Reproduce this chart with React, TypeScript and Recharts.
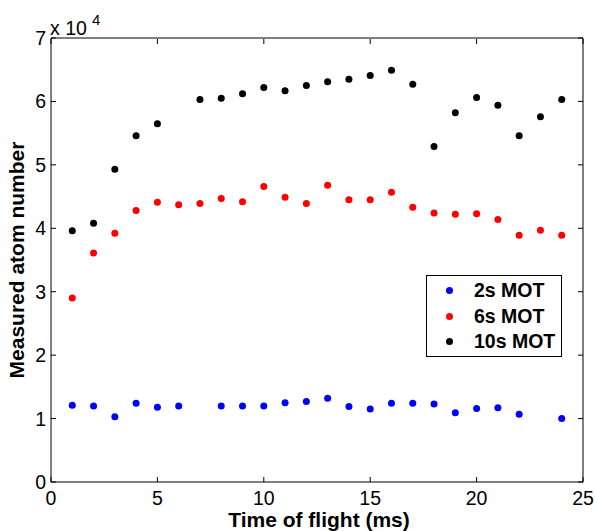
import React from "react";
import { ScatterChart, Scatter, XAxis, YAxis } from "recharts";

const t2s = [1, 2, 3, 4, 5, 6, 8, 9, 10, 11, 12, 13, 14, 15, 16, 17, 18, 19, 20, 21, 22, 24];
const n2s = [12100, 12000, 10300, 12400, 11800, 12000, 12000, 12000, 12000, 12500, 12700, 13200, 11900, 11500, 12400, 12400, 12300, 10900, 11600, 11700, 10700, 10000];

const t6s = [1, 2, 3, 4, 5, 6, 7, 8, 9, 10, 11, 12, 13, 14, 15, 16, 17, 18, 19, 20, 21, 22, 23, 24];
const n6s = [29000, 36100, 39200, 42800, 44100, 43700, 43900, 44700, 44200, 46600, 44900, 43900, 46800, 44500, 44500, 45700, 43300, 42400, 42200, 42300, 41400, 38900, 39700, 38900];

const t10s = [1, 2, 3, 4, 5, 7, 8, 9, 10, 11, 12, 13, 14, 15, 16, 17, 18, 19, 20, 21, 22, 23, 24];
const n10s = [39600, 40800, 49300, 54600, 56500, 60300, 60500, 61200, 62200, 61700, 62500, 63100, 63500, 64100, 64900, 62700, 52900, 58200, 60600, 59400, 54600, 57600, 60300];

const xTicks = [0, 5, 10, 15, 20, 25];
const yTicks = [0, 10000, 20000, 30000, 40000, 50000, 60000, 70000];

const series = [
  { name: "2s MOT", color: "#0000ff", t: t2s, n: n2s },
  { name: "6s MOT", color: "#ff0000", t: t6s, n: n6s },
  { name: "10s MOT", color: "#000000", t: t10s, n: n10s },
];

const FONT = "'Liberation Sans', Arial, Helvetica, sans-serif";
const TICK = 5;

const toPoints = (t: number[], n: number[]) => t.map((x, i) => ({ x, y: n[i] }));

const BottomTick = (p: any) => (
  <g>
    <line x1={p.x} y1={p.y} x2={p.x} y2={p.y - TICK} stroke="#000" />
    <text x={p.x} y={p.y + 23} textAnchor="middle" fontSize={19.5} fontFamily={FONT} fill="#000">
      {p.payload.value}
    </text>
  </g>
);

// top axis line sits at p.y + 1 because the axis is 1px tall
const TopTick = (p: any) => <line x1={p.x} y1={p.y + 1} x2={p.x} y2={p.y + 1 + TICK} stroke="#000" />;

const LeftTick = (p: any) => (
  <g>
    <line x1={p.x} y1={p.y} x2={p.x + TICK} y2={p.y} stroke="#000" />
    <text x={p.x - 5} y={p.y + 7} textAnchor="end" fontSize={19.5} fontFamily={FONT} fill="#000">
      {p.payload.value / 10000}
    </text>
  </g>
);

const RightTick = (p: any) => <line x1={p.x} y1={p.y} x2={p.x - TICK} y2={p.y} stroke="#000" />;

const dot = (color: string) => (p: any) => <circle cx={p.cx} cy={p.cy} r={3.5} fill={color} />;
const noDot = () => <g />;

export default function App() {
  return (
    <div style={{ position: "relative", width: 595, height: 531, background: "#fff", fontFamily: FONT }}>
      <style>{"body{margin:0}"}</style>
      <ScatterChart width={595} height={531} margin={{ top: 37, right: 11, bottom: 0, left: 0 }}>
        <XAxis
          xAxisId="b"
          type="number"
          dataKey="x"
          domain={[0, 25]}
          ticks={xTicks}
          height={49}
          tickSize={0}
          tickMargin={0}
          tickLine={false}
          axisLine={{ stroke: "#000" }}
          tick={BottomTick}
          interval={0}
        />
        <XAxis
          xAxisId="t"
          orientation="top"
          type="number"
          dataKey="x"
          domain={[0, 25]}
          ticks={xTicks}
          height={1}
          tickSize={0}
          tickMargin={0}
          tickLine={false}
          axisLine={{ stroke: "#000" }}
          tick={TopTick}
          interval={0}
        />
        <YAxis
          yAxisId="l"
          type="number"
          dataKey="y"
          domain={[0, 70000]}
          ticks={yTicks}
          width={51}
          tickSize={0}
          tickMargin={0}
          tickLine={false}
          axisLine={{ stroke: "#000" }}
          tick={LeftTick}
          interval={0}
        />
        <YAxis
          yAxisId="r"
          orientation="right"
          type="number"
          dataKey="y"
          domain={[0, 70000]}
          ticks={yTicks}
          width={1}
          tickSize={0}
          tickMargin={0}
          tickLine={false}
          axisLine={{ stroke: "#000" }}
          tick={RightTick}
          interval={0}
        />
        {series.map((s) => (
          <Scatter
            key={s.name}
            name={s.name}
            xAxisId="b"
            yAxisId="l"
            data={toPoints(s.t, s.n)}
            fill={s.color}
            shape={dot(s.color)}
            isAnimationActive={false}
          />
        ))}
        {/* invisible series so the top and right frame axes get drawn */}
        <Scatter
          name="frame"
          xAxisId="t"
          yAxisId="r"
          data={toPoints(t10s, n10s)}
          shape={noDot}
          legendType="none"
          isAnimationActive={false}
        />
        <text x={50} y={35} fontSize={19.5} fontFamily={FONT} fill="#000">x 10</text>
        <text x={92} y={25} fontSize={15} fontFamily={FONT} fill="#000">4</text>
        <text x={319} y={527} textAnchor="middle" fontSize={21} fontWeight="bold" fontFamily={FONT} fill="#000">
          Time of flight (ms)
        </text>
        <text
          x={24}
          y={260}
          transform="rotate(-90 24 260)"
          textAnchor="middle"
          fontSize={21}
          fontWeight="bold"
          fontFamily={FONT}
          fill="#000"
        >
          Measured atom number
        </text>
      </ScatterChart>
      <div
        style={{
          position: "absolute",
          left: 426,
          top: 275,
          width: 136,
          height: 82,
          boxSizing: "border-box",
          border: "1.5px solid #000",
          background: "#fff",
        }}
      >
        {series.map((s, i) => (
          <div
            key={s.name}
            style={{ position: "absolute", left: 0, top: 2 + i * 25.5, height: 25, display: "flex", alignItems: "center" }}
          >
            <span
              style={{ display: "inline-block", width: 7, height: 7, borderRadius: "50%", background: s.color, marginLeft: 19 }}
            />
            <span style={{ marginLeft: 21, fontSize: 19.5, fontWeight: "bold", color: "#000", lineHeight: "25px" }}>
              {s.name}
            </span>
          </div>
        ))}
      </div>
    </div>
  );
}
